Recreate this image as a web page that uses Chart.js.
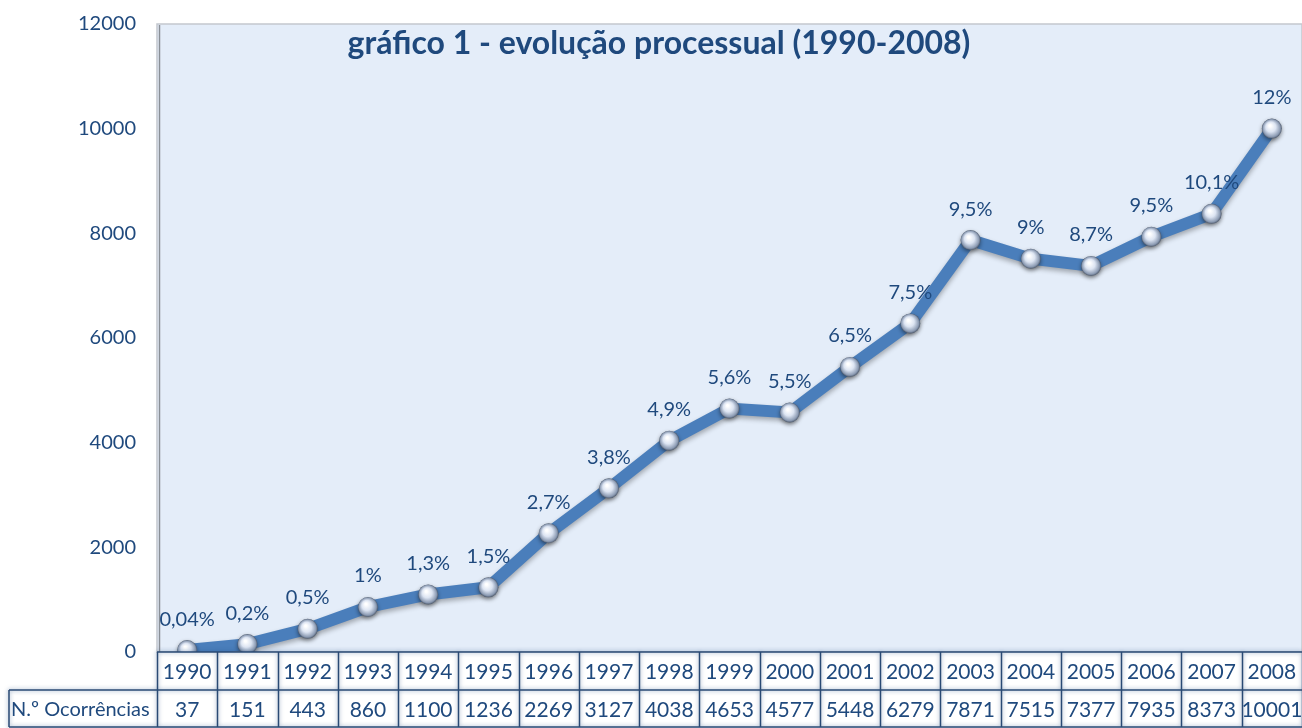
<!DOCTYPE html>
<html>
<head>
<meta charset="utf-8">
<script src="https://cdn.jsdelivr.net/npm/chart.js@4.4.1/dist/chart.umd.min.js"></script>
<style>
  html, body { margin: 0; padding: 0; background: #fff; }
  #wrap { width: 1302px; height: 728px; }
</style>
</head>
<body>
<div id="wrap"><canvas id="chart" width="1302" height="728"></canvas></div>
<script>
const years = ['1990','1991','1992','1993','1994','1995','1996','1997','1998','1999',
               '2000','2001','2002','2003','2004','2005','2006','2007','2008'];
const occurrences = [37, 151, 443, 860, 1100, 1236, 2269, 3127, 4038, 4653,
                     4577, 5448, 6279, 7871, 7515, 7377, 7935, 8373, 10001];
const percentLabels = ['0,04%','0,2%','0,5%','1%','1,3%','1,5%','2,7%','3,8%','4,9%','5,6%',
                       '5,5%','6,5%','7,5%','9,5%','9%','8,7%','9,5%','10,1%','12%'];
const yTicks = [0, 2000, 4000, 6000, 8000, 10000, 12000];

const chartTitle = 'gráfico 1 - evolução processual (1990-2008)';
const rowLabel = 'N.º Ocorrências';
const textColor = '#1F497D';
const fontFamily = 'Lato, "Open Sans", sans-serif';

// plot background + border
const backgroundPlugin = {
    id: 'plotBackground',
    beforeDraw(chart) {
        const { ctx, chartArea } = chart;
        ctx.save();
        ctx.fillStyle = '#E4EDF9';
        ctx.fillRect(chartArea.left, chartArea.top, chartArea.right - chartArea.left, chartArea.bottom - chartArea.top);
        ctx.strokeStyle = '#C4C8CE';
        ctx.lineWidth = 1.5;
        ctx.strokeRect(chartArea.left, chartArea.top, chartArea.right - chartArea.left, chartArea.bottom - chartArea.top);
        ctx.strokeStyle = '#8A8F96';
        ctx.lineWidth = 1.5;
        ctx.beginPath();
        ctx.moveTo(chartArea.left + 2.5, chartArea.top + 1);
        ctx.lineTo(chartArea.left + 2.5, chartArea.bottom);
        ctx.stroke();
        ctx.restore();
    }
};

// shadow under the line
const lineShadowPlugin = {
    id: 'lineShadow',
    beforeDatasetDraw(chart) {
        const ctx = chart.ctx;
        ctx.save();
        ctx.shadowColor = 'rgba(0,0,0,0.3)';
        ctx.shadowBlur = 5;
        ctx.shadowOffsetY = 3;
    },
    afterDatasetDraw(chart) {
        chart.ctx.restore();
    }
};

// glass-ball markers, value labels, title, table
const extrasPlugin = {
    id: 'extras',
    afterDatasetsDraw(chart) {
        const ctx = chart.ctx;
        const meta = chart.getDatasetMeta(0);
        meta.data.forEach((pt, i) => {
            const x = pt.x, y = pt.y, r = 10;
            ctx.save();
            ctx.shadowColor = 'rgba(0,0,0,0.45)';
            ctx.shadowBlur = 4;
            ctx.shadowOffsetY = 2;
            const g = ctx.createRadialGradient(x - 2, y - 3, 1, x, y, r);
            g.addColorStop(0, '#FFFFFF');
            g.addColorStop(0.45, '#DCE4F2');
            g.addColorStop(0.85, '#8C9BB3');
            g.addColorStop(1, '#4F5B6E');
            ctx.fillStyle = g;
            ctx.beginPath();
            ctx.arc(x, y, r, 0, Math.PI * 2);
            ctx.fill();
            ctx.restore();

            ctx.save();
            ctx.fillStyle = textColor;
            ctx.font = '20px ' + fontFamily;
            ctx.textAlign = 'center';
            ctx.textBaseline = 'middle';
            ctx.fillText(percentLabels[i], x, y - 31);
            ctx.restore();
        });
    },
    afterDraw(chart) {
        const { ctx, chartArea } = chart;
        const xs = chart.scales.x;
        const colW = (xs.right - xs.left) / years.length;

        ctx.save();
        ctx.fillStyle = textColor;
        ctx.font = 'bold 32px ' + fontFamily;
        ctx.textAlign = 'center';
        ctx.textBaseline = 'middle';
        ctx.fillText(chartTitle, 659, 44);
        ctx.restore();

        const top = chartArea.bottom;
        const mid = top + 38;
        const bottom = 727;
        const labelLeft = 9;

        ctx.save();
        ctx.fillStyle = '#FFFFFF';
        ctx.fillRect(xs.left, top, xs.right - xs.left, bottom - top);
        ctx.fillRect(labelLeft, mid, xs.left - labelLeft, bottom - mid);

        ctx.strokeStyle = '#2A4A74';
        ctx.lineWidth = 1.5;
        ctx.shadowColor = 'rgba(31,73,125,0.55)';
        ctx.shadowBlur = 4;
        ctx.beginPath();
        ctx.moveTo(xs.left, top); ctx.lineTo(xs.right, top);
        ctx.moveTo(labelLeft, mid); ctx.lineTo(xs.right, mid);
        ctx.moveTo(labelLeft, bottom); ctx.lineTo(xs.right, bottom);
        ctx.moveTo(labelLeft, mid); ctx.lineTo(labelLeft, bottom);
        for (let i = 0; i <= years.length; i++) {
            const lx = Math.round(xs.left + i * colW) + 0.5;
            ctx.moveTo(lx, top); ctx.lineTo(lx, bottom);
        }
        ctx.stroke();
        ctx.restore();

        ctx.save();
        ctx.fillStyle = textColor;
        ctx.font = '21px ' + fontFamily;
        ctx.textAlign = 'center';
        ctx.textBaseline = 'middle';
        years.forEach((yr, i) => {
            const cx = xs.getPixelForValue(i);
            ctx.fillText(yr, cx, top + 20);
            ctx.fillText(String(occurrences[i]), cx, mid + 20);
        });
        ctx.font = '20px ' + fontFamily;
        ctx.textAlign = 'left';
        ctx.fillText(rowLabel, labelLeft + 2, mid + 20);
        ctx.restore();
    }
};

const ctx = document.getElementById('chart').getContext('2d');
new Chart(ctx, {
    type: 'line',
    data: {
        labels: years,
        datasets: [{
            label: rowLabel,
            data: occurrences,
            borderColor: '#4A7EBB',
            borderWidth: 12,
            pointRadius: 0,
            tension: 0,
            fill: false
        }]
    },
    options: {
        responsive: false,
        animation: false,
        layout: { padding: { top: 24, right: 0, left: 0, bottom: 0 } },
        plugins: {
            legend: { display: false },
            tooltip: { enabled: false },
            title: { display: false }
        },
        scales: {
            x: {
                type: 'category',
                offset: true,
                grid: { display: false, drawTicks: false },
                border: { display: false },
                ticks: { display: false },
                afterFit(scale) { scale.height = 76; }
            },
            y: {
                min: 0,
                max: 12000,
                afterBuildTicks(scale) { scale.ticks = yTicks.map(v => ({ value: v })); },
                grid: { display: false, drawTicks: false },
                border: { display: false },
                ticks: {
                    color: textColor,
                    font: { family: fontFamily, size: 20 },
                    padding: 21,
                    callback: v => String(v)
                },
                afterFit(scale) {
                    scale.width = 157;
                    scale.paddingTop = 0;
                    scale.paddingBottom = 0;
                }
            }
        }
    },
    plugins: [backgroundPlugin, lineShadowPlugin, extrasPlugin]
});
</script>
</body>
</html>
